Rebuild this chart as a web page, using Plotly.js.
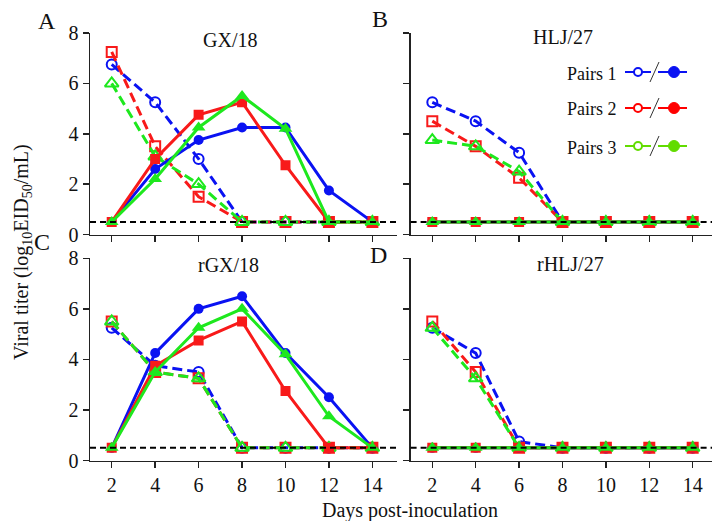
<!DOCTYPE html>
<html>
<head>
<meta charset="utf-8">
<script src="https://cdn.plot.ly/plotly-3.0.1.min.js"></script>
<style>html,body{margin:0;padding:0;background:#fff;}#chart{width:712px;height:521px;}</style>
</head>
<body>
<div id="chart"></div>
<script>
// ---- data ----
const days = [2, 4, 6, 8, 10, 12, 14];
const panelTitles = ["GX/18", "HLJ/27", "rGX/18", "rHLJ/27"];
const panelLetters = ["A", "B", "C", "D"];
const pairNames = ["Pairs 1", "Pairs 2", "Pairs 3"];
const yTicks = [0, 2, 4, 6, 8];
const xTicks = [2, 4, 6, 8, 10, 12, 14];
const limitOfDetection = 0.5;

// GX/18
const gx18Pair1Open  = [6.75, 5.25, 3.0, 0.5, 0.5, 0.5, 0.5];
const gx18Pair2Open  = [7.25, 3.5, 1.5, 0.5, 0.5, 0.5, 0.5];
const gx18Pair3Open  = [6.0, 3.1, 2.0, 0.5, 0.5, 0.5, 0.5];
const gx18Pair1Solid = [0.5, 2.6, 3.75, 4.25, 4.25, 1.75, 0.5];
const gx18Pair2Solid = [0.5, 3.0, 4.75, 5.25, 2.75, 0.5, 0.5];
const gx18Pair3Solid = [0.5, 2.2, 4.25, 5.5, 4.2, 0.5, 0.5];
// HLJ/27
const hlj27Pair1Open  = [5.25, 4.5, 3.25, 0.5, 0.5, 0.5, 0.5];
const hlj27Pair2Open  = [4.5, 3.5, 2.25, 0.5, 0.5, 0.5, 0.5];
const hlj27Pair3Open  = [3.75, 3.5, 2.5, 0.5, 0.5, 0.5, 0.5];
const hlj27Pair1Solid = [0.5, 0.5, 0.5, 0.5, 0.5, 0.5, 0.5];
const hlj27Pair2Solid = [0.5, 0.5, 0.5, 0.5, 0.5, 0.5, 0.5];
const hlj27Pair3Solid = [0.5, 0.5, 0.5, 0.5, 0.5, 0.5, 0.5];
// rGX/18
const rgx18Pair1Open  = [5.25, 3.75, 3.5, 0.5, 0.5, 0.5, 0.5];
const rgx18Pair2Open  = [5.5, 3.5, 3.25, 0.5, 0.5, 0.5, 0.5];
const rgx18Pair3Open  = [5.5, 3.5, 3.25, 0.5, 0.5, 0.5, 0.5];
const rgx18Pair1Solid = [0.5, 4.25, 6.0, 6.5, 4.25, 2.5, 0.5];
const rgx18Pair2Solid = [0.5, 3.75, 4.75, 5.5, 2.75, 0.5, 0.5];
const rgx18Pair3Solid = [0.5, 3.5, 5.25, 6.0, 4.2, 1.75, 0.5];
// rHLJ/27
const rhlj27Pair1Open  = [5.25, 4.25, 0.75, 0.5, 0.5, 0.5, 0.5];
const rhlj27Pair2Open  = [5.5, 3.5, 0.5, 0.5, 0.5, 0.5, 0.5];
const rhlj27Pair3Open  = [5.25, 3.25, 0.5, 0.5, 0.5, 0.5, 0.5];
const rhlj27Pair1Solid = [0.5, 0.5, 0.5, 0.5, 0.5, 0.5, 0.5];
const rhlj27Pair2Solid = [0.5, 0.5, 0.5, 0.5, 0.5, 0.5, 0.5];
const rhlj27Pair3Solid = [0.5, 0.5, 0.5, 0.5, 0.5, 0.5, 0.5];

// ---- styling ----
const W = 712, H = 521;
const FONT = "Liberation Serif, Times New Roman, serif";
const colors = ["#0a12f2", "#f81a1a", "#1ee81e"];
const legendColors = ["#0a12f2", "#ff0000", "#62dc00"];
const openSymbols = ["circle-open", "square-open", "triangle-up-open"];
const solidSymbols = ["circle", "square", "triangle-up"];
const symSize = [10, 10, 12];

const panels = [
  {open: [gx18Pair1Open, gx18Pair2Open, gx18Pair3Open], solid: [gx18Pair1Solid, gx18Pair2Solid, gx18Pair3Solid]},
  {open: [hlj27Pair1Open, hlj27Pair2Open, hlj27Pair3Open], solid: [hlj27Pair1Solid, hlj27Pair2Solid, hlj27Pair3Solid]},
  {open: [rgx18Pair1Open, rgx18Pair2Open, rgx18Pair3Open], solid: [rgx18Pair1Solid, rgx18Pair2Solid, rgx18Pair3Solid]},
  {open: [rhlj27Pair1Open, rhlj27Pair2Open, rhlj27Pair3Open], solid: [rhlj27Pair1Solid, rhlj27Pair2Solid, rhlj27Pair3Solid]}
];

// pixel geometry
const px = v => v / W;
const py = v => (H - v) / H;
const xDom = [[px(90), px(396.5)], [px(410.6), 1], [px(90), px(396.5)], [px(410.6), 1]];
const xRng = [[1, 15.11], [1, 14.89], [1, 15.11], [1, 14.89]];
const yDom = [[py(234.5), py(33)], [py(234.5), py(33)], [py(460.5), py(258.3)], [py(460.5), py(258.3)]];

const traces = [];
const layout = {
  width: W, height: H,
  margin: {l: 0, r: 0, t: 0, b: 0},
  paper_bgcolor: "#fff", plot_bgcolor: "rgba(0,0,0,0)",
  showlegend: false,
  font: {family: FONT, size: 20, color: "#111"},
  annotations: [], shapes: []
};

panels.forEach((p, i) => {
  const xa = i === 0 ? "x" : "x" + (i + 1);
  const ya = i === 0 ? "y" : "y" + (i + 1);
  for (let k = 0; k < 3; k++) {
    traces.push({
      x: days, y: p.open[k], xaxis: xa, yaxis: ya, type: "scatter", mode: "lines+markers",
      line: {color: colors[k], width: 3, dash: "10px,5px"},
      marker: {symbol: openSymbols[k], size: symSize[k], color: colors[k], line: {width: 2, color: colors[k]}},
      hoverinfo: "skip", name: pairNames[k]
    });
  }
  for (let k = 0; k < 3; k++) {
    traces.push({
      x: days, y: p.solid[k], xaxis: xa, yaxis: ya, type: "scatter", mode: "lines+markers",
      line: {color: colors[k], width: 3},
      marker: {symbol: solidSymbols[k], size: symSize[k], color: colors[k]},
      hoverinfo: "skip", name: pairNames[k]
    });
  }
  const showX = i >= 2, showY = (i % 2 === 0);
  layout["xaxis" + (i === 0 ? "" : i + 1)] = {
    domain: xDom[i], range: xRng[i], anchor: ya, tickvals: xTicks, showticklabels: showX,
    showline: true, linecolor: "#222", linewidth: 1.5, ticks: "outside", ticklen: 6, tickwidth: 1.5, tickcolor: "#222",
    showgrid: false, zeroline: false, tickfont: {family: FONT, size: 20, color: "#111"}
  };
  layout["yaxis" + (i === 0 ? "" : i + 1)] = {
    domain: yDom[i], range: [0, 8], anchor: xa, tickvals: yTicks, showticklabels: showY,
    showline: true, linecolor: "#222", linewidth: 1.5, ticks: "outside", ticklen: 6, tickwidth: 1.5, tickcolor: "#222",
    showgrid: false, zeroline: false, tickfont: {family: FONT, size: 20, color: "#111"}
  };
  // limit of detection line
  layout.shapes.push({
    type: "line", xref: xa + " domain", yref: ya, x0: 0, x1: 1.0, y0: limitOfDetection, y1: limitOfDetection,
    line: {color: "#000", width: 2, dash: "6px,4px"}, layer: "above"
  });
});

// panel titles and letters
const titlePos = [[230, 40], [563, 37], [228, 265], [570, 264]];
const letterPos = [[47, 21], [380, 19], [42, 242], [378, 255]];
for (let i = 0; i < 4; i++) {
  layout.annotations.push({text: panelTitles[i], xref: "paper", yref: "paper", x: px(titlePos[i][0]), y: py(titlePos[i][1]),
    xanchor: "center", yanchor: "middle", showarrow: false, font: {family: FONT, size: 20, color: "#111"}});
  layout.annotations.push({text: panelLetters[i], xref: "paper", yref: "paper", x: px(letterPos[i][0]), y: py(letterPos[i][1]),
    xanchor: "center", yanchor: "middle", showarrow: false, font: {family: FONT, size: 24, color: "#111"}});
}
// axis titles
layout.annotations.push({text: "Days post-inoculation", xref: "paper", yref: "paper", x: px(410), y: py(510),
  xanchor: "center", yanchor: "middle", showarrow: false, font: {family: FONT, size: 20, color: "#111"}});
layout.annotations.push({text: "Viral titer (log<sub>10</sub>EID<sub>50</sub>/mL)", xref: "paper", yref: "paper", x: px(22), y: py(252),
  xanchor: "center", yanchor: "middle", textangle: -90, showarrow: false, font: {family: FONT, size: 20, color: "#111"}});

// legend (drawn as decoration)
const legY = [72, 108, 146];
for (let k = 0; k < 3; k++) {
  const c = legendColors[k];
  layout.annotations.push({text: pairNames[k], xref: "paper", yref: "paper", x: px(619), y: py(legY[k] + 1.5),
    xanchor: "right", yanchor: "middle", showarrow: false, font: {family: FONT, size: 18, color: "#111"}});
  layout.shapes.push({type: "line", xref: "paper", yref: "paper", x0: px(625), x1: px(651), y0: py(legY[k]), y1: py(legY[k]), line: {color: c, width: 2}});
  layout.shapes.push({type: "line", xref: "paper", yref: "paper", x0: px(658), x1: px(687), y0: py(legY[k]), y1: py(legY[k]), line: {color: c, width: 2}});
  layout.shapes.push({type: "line", xref: "paper", yref: "paper", x0: px(650), x1: px(659), y0: py(legY[k] + 10), y1: py(legY[k] - 10), line: {color: "#333", width: 1}});
  layout.shapes.push({type: "circle", xref: "paper", yref: "paper", xsizemode: "pixel", ysizemode: "pixel",
    xanchor: px(638), yanchor: py(legY[k]), x0: -4, x1: 4, y0: -4, y1: 4, fillcolor: "#fff", line: {color: c, width: 2}});
  layout.shapes.push({type: "circle", xref: "paper", yref: "paper", xsizemode: "pixel", ysizemode: "pixel",
    xanchor: px(674), yanchor: py(legY[k]), x0: -5.5, x1: 5.5, y0: -5.5, y1: 5.5, fillcolor: c, line: {color: c, width: 1}});
}

Plotly.newPlot("chart", traces, layout, {staticPlot: true, displayModeBar: false});
</script>
</body>
</html>
